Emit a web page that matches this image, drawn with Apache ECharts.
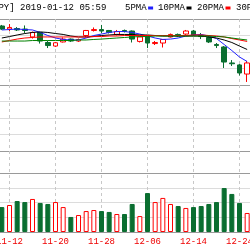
<!DOCTYPE html>
<html><head><meta charset="utf-8">
<script src="https://cdn.jsdelivr.net/npm/echarts@6/dist/echarts.min.js"></script>
<style>html,body{margin:0;padding:0;width:250px;height:250px;overflow:hidden;background:#fff}
#c{position:absolute;left:-40px;top:0;width:330px;height:250px}</style>
</head><body><div id="c"></div>
<script>
const titleText = '[USDJPY] 2019-01-12 05:59';
const dates = ['11-09','11-12','11-13','11-14','11-15','11-16','11-19','11-20','11-21','11-22','11-23','11-26','11-27','11-28','11-29','11-30','12-03','12-04','12-05','12-06','12-07','12-10','12-11','12-12','12-13','12-14','12-17','12-18','12-19','12-20','12-21','12-24','12-25'];
// [open, close, low, high]
const ohlc = [
[114.47,114.24,114.17,114.55],[114.24,114.36,114.09,114.62],[114.28,114.17,114.09,114.39],[114.24,114.13,113.94,114.51],
[113.64,113.98,113.52,114.05],[113.98,113.33,113.14,114.02],[113.22,112.99,112.80,113.33],[112.95,113.20,112.88,113.26],
[113.26,113.48,113.22,113.60],[113.48,113.33,113.26,113.52],[113.33,113.45,113.26,113.52],[113.75,114.13,113.64,114.17],
[114.13,114.20,114.05,114.36],[114.20,114.09,113.94,114.55],[114.13,113.98,113.90,114.17],[113.83,114.05,113.75,114.17],
[114.13,114.05,113.98,114.20],[114.09,113.48,113.22,114.13],[113.30,113.64,113.22,113.67],[113.64,113.18,112.80,113.71],
[113.14,113.22,113.03,113.33],[113.18,113.45,112.84,113.48],[113.64,113.83,113.60,113.90],[113.83,113.71,113.64,113.90],
[113.86,114.09,113.79,114.17],[114.09,113.79,113.71,114.17],[113.75,113.67,113.48,113.94],[113.60,113.26,113.18,113.71],
[113.07,112.99,112.80,113.18],[112.88,111.74,111.29,112.95],[111.67,111.61,111.44,111.89],[111.52,110.91,110.72,111.59],
[110.83,111.67,110.23,111.82]];
const volumes = [1690,1830,2100,2030,2240,1970,1900,2030,1690,1020,1150,1420,1490,1420,1360,1220,1220,1900,1080,2640,2030,2310,1900,1760,1630,1690,1760,1900,2030,2980,2580,1970,1290];
const ma5 = [114.17,114.20,114.24,114.20,114.17,113.98,113.75,113.56,113.45,113.41,113.41,113.56,113.75,113.86,113.98,114.05,114.05,113.98,113.86,113.71,113.56,113.45,113.48,113.56,113.71,113.79,113.83,113.71,113.52,113.07,112.61,112.12,111.78];
const ma10 = [113.56,113.67,113.79,113.90,113.98,114.02,113.98,113.90,113.83,113.71,113.64,113.64,113.67,113.75,113.79,113.83,113.83,113.83,113.79,113.79,113.75,113.71,113.71,113.71,113.71,113.71,113.71,113.64,113.56,113.41,113.22,112.95,112.69];
const ma20 = [113.26,113.37,113.48,113.56,113.60,113.64,113.64,113.64,113.64,113.64,113.64,113.64,113.67,113.67,113.71,113.71,113.75,113.75,113.75,113.75,113.75,113.75,113.75,113.75,113.75,113.79,113.79,113.75,113.71,113.64,113.52,113.41,113.30];
const ma30 = [113.33,113.33,113.33,113.33,113.37,113.37,113.37,113.37,113.37,113.37,113.41,113.41,113.45,113.48,113.52,113.56,113.60,113.64,113.67,113.67,113.71,113.71,113.71,113.71,113.71,113.71,113.71,113.71,113.67,113.64,113.56,113.48,113.41];
const maNames = ['5PMA','10PMA','20PMA','30PMA'];

const UP = '#ff0000', DOWN = '#0a6e30';
const maColors = ['#2020ff','#000000','#ff0000','#008000'];
const FONT = '9px "Liberation Mono"';
const splitColors = ['#9a9a9a','#dcdcdc','#dcdcdc','#dcdcdc'];

const chart = echarts.init(document.getElementById('c'), null, {renderer:'canvas'});
const hideAxis = {axisLine:{show:false}, axisTick:{show:false}, axisLabel:{show:false}};

const volData = volumes.map((v,i)=>{
  const up = ohlc[i][1] >= ohlc[i][0];
  return {value:v, itemStyle: up ? {color:'#fff', borderColor:UP, borderWidth:1} : {color:DOWN, borderColor:DOWN, borderWidth:1}};
});

const graphic = [{type:'text', x:11.4, y:8, style:{text:titleText, font:FONT, fill:'#000', verticalAlign:'middle'}}];
const legX = [165, 198, 237, 276];
maNames.forEach((n,i)=>{
  const w = n.length*5.4;
  graphic.push({type:'text', x:legX[i], y:8, style:{text:n, font:FONT, fill:'#000', verticalAlign:'middle'}});
  graphic.push({type:'rect', shape:{x:legX[i]+w+1.5, y:6.5, width:5, height:3}, style:{fill:maColors[i]}});
});

const maSeries = [ma5, ma10, ma20, ma30].map((d,i)=>({
  name: maNames[i], type:'line', xAxisIndex:0, yAxisIndex:0, data:d, showSymbol:false, symbol:'none',
  lineStyle:{color:maColors[i], width:1}, z:3
}));

chart.setOption({
  animation:false,
  graphic: graphic,
  grid:[
    {left:38, width:253, top:19, height:132},
    {left:38, width:253, top:173, height:59},
    {left:41.83, width:245.33, top:19, height:213}
  ],
  xAxis:[
    Object.assign({type:'category', gridIndex:0, data:dates, splitLine:{show:false}}, hideAxis),
    Object.assign({type:'category', gridIndex:1, data:dates, splitLine:{show:false}}, hideAxis),
    {type:'category', gridIndex:2, data:dates, boundaryGap:false,
     axisLine:{show:false}, axisTick:{show:false},
     splitLine:{show:true, interval:(i)=>i%6===1, lineStyle:{color:'#c8c8c8', type:[3,3], width:1}},
     axisLabel:{interval:(i)=>i%6===1, color:'#ee0000', fontFamily:'Liberation Mono', fontSize:9, margin:5}}
  ],
  yAxis:[
    Object.assign({type:'value', gridIndex:0, min:105, max:115, interval:1.25, scale:false,
      splitLine:{show:true, lineStyle:{color:splitColors, width:1}}}, hideAxis),
    Object.assign({type:'value', gridIndex:1, min:0, max:4000, interval:1000,
      splitLine:{show:true, lineStyle:{color:splitColors, width:1}}}, hideAxis),
    {type:'value', gridIndex:2, min:0, max:1, show:false, splitLine:{show:false}}
  ],
  series:[
    {type:'candlestick', xAxisIndex:0, yAxisIndex:0, data:ohlc, barWidth:5,
     itemStyle:{color:'#ffffff', color0:DOWN, borderColor:UP, borderColor0:DOWN, borderWidth:1}},
    ...maSeries,
    {type:'bar', xAxisIndex:1, yAxisIndex:1, data:volData, barWidth:5}
  ]
});
</script></body></html>
